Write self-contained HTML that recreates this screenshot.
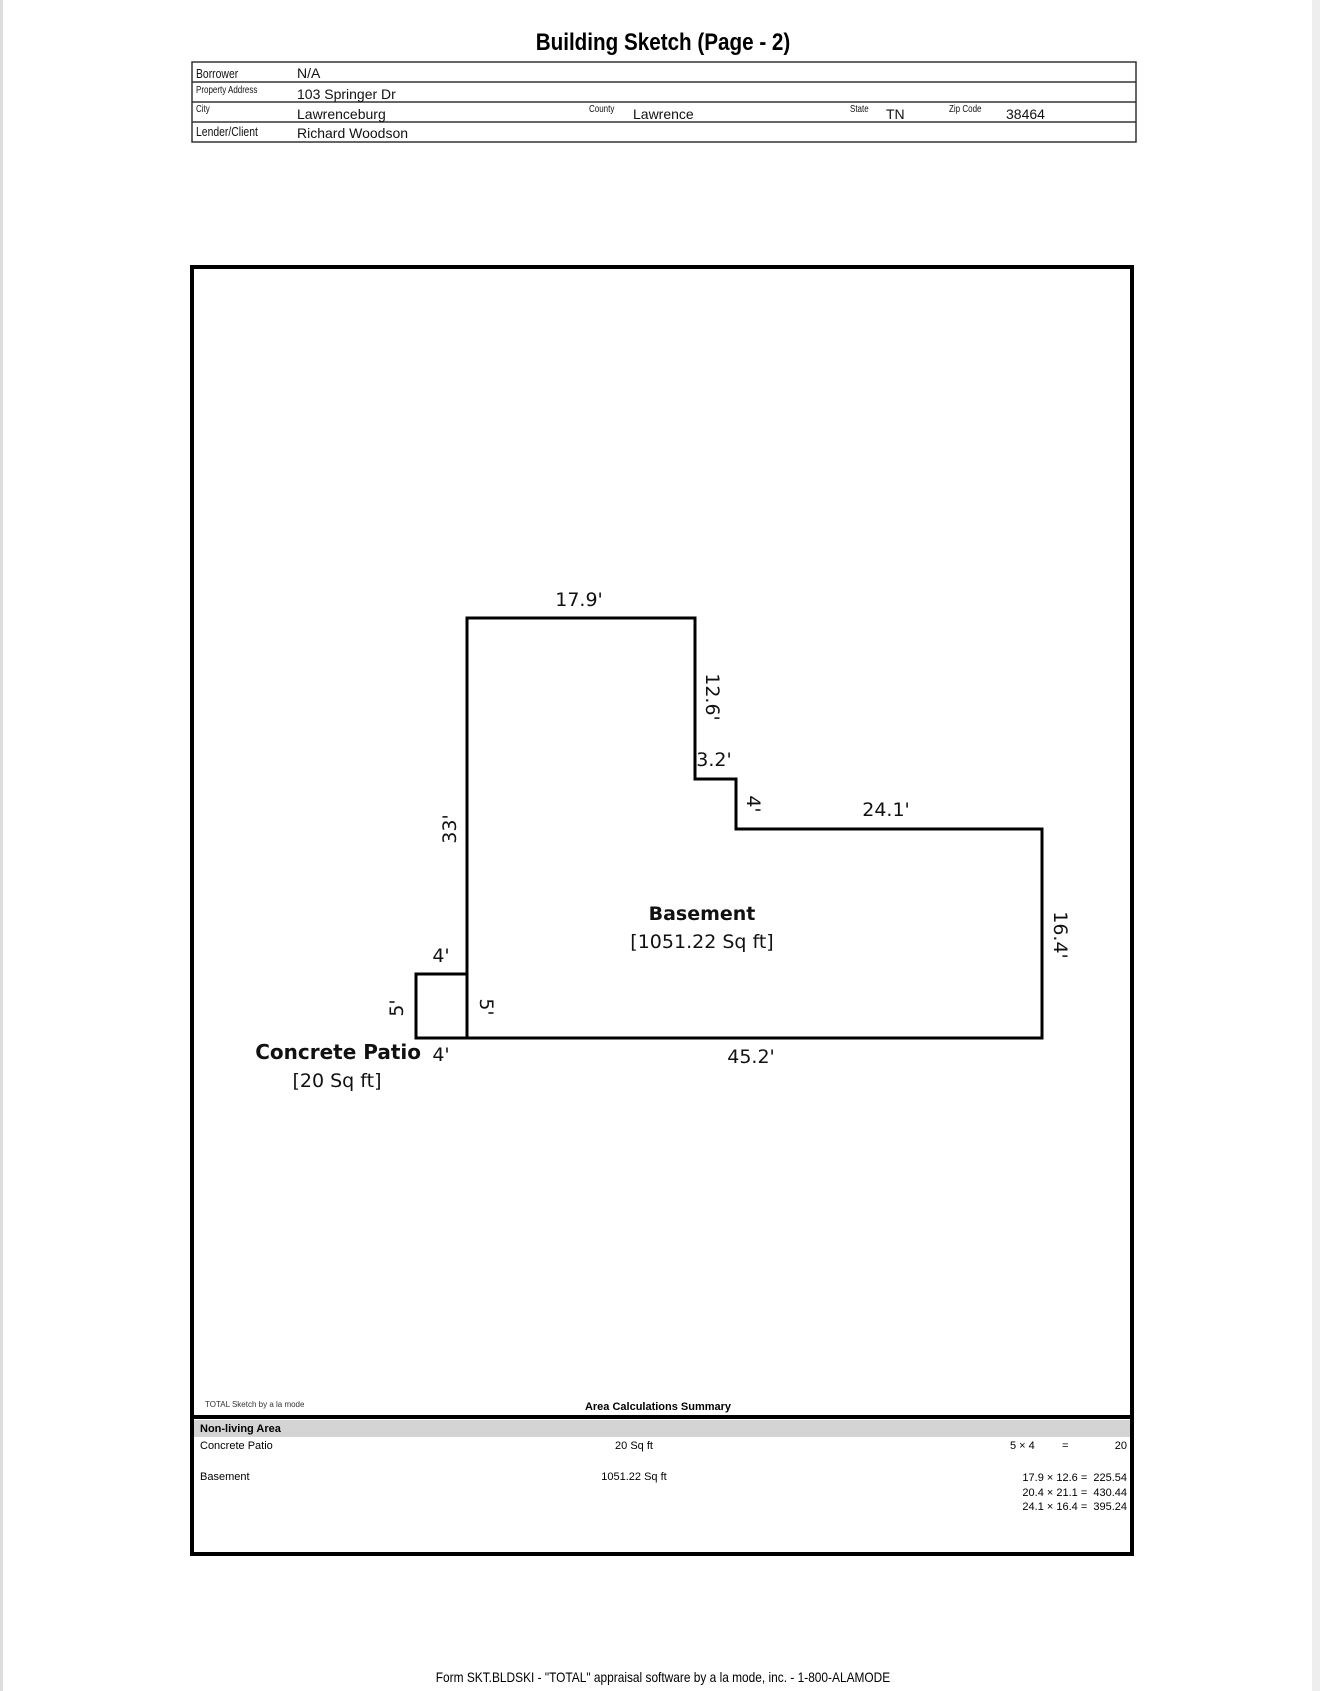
<!DOCTYPE html>
<html><head><style>
html,body{margin:0;padding:0;}
body{width:1320px;height:1691px;background:#fff;position:relative;overflow:hidden;font-family:"Liberation Sans",sans-serif;}
.edgeL{position:absolute;left:0;top:0;width:3px;height:1691px;background:#ddd;}
.edgeR{position:absolute;right:0;top:0;width:8px;height:1691px;background:#eee;}
.t{position:absolute;white-space:nowrap;}
.hd{font-size:10px;transform:scaleX(.8);transform-origin:left;color:#111;}
.hv{font-size:14px;color:#111;}
</style></head><body>
<div class="edgeL"></div><div class="edgeR"></div>
<div class="t" style="left:0;width:1326px;text-align:center;top:29px;font-size:24px;font-weight:bold;transform:scaleX(.86);transform-origin:663px 0;">Building Sketch (Page - 2)</div>
<svg style="position:absolute;left:0;top:0" width="1320" height="1691">
<g stroke="#333" fill="none" stroke-width="1.5">
<rect x="192" y="62" width="944" height="80"/>
<line x1="192" y1="82" x2="1136" y2="82"/><line x1="192" y1="102" x2="1136" y2="102"/><line x1="192" y1="122" x2="1136" y2="122"/>
</g>
<rect x="192" y="267" width="940" height="1287" fill="none" stroke="#000" stroke-width="4"/>
<line x1="192" y1="1417" x2="1132" y2="1417" stroke="#000" stroke-width="4"/>
<rect x="194" y="1420" width="936" height="17" fill="#d4d4d4"/>
<g stroke="#000" stroke-width="3" fill="none">
<polygon points="467,618 695,618 695,779 736,779 736,829 1042,829 1042,1038 467,1038"/>
<rect x="416" y="974" width="51" height="64"/>
</g>
<g font-family="DejaVu Sans, sans-serif" font-size="19" fill="#111" text-anchor="middle">
<text x="579" y="606">17.9'</text>
<text transform="translate(706,697) rotate(90)">12.6'</text>
<text x="714" y="766">3.2'</text>
<text transform="translate(747,804) rotate(90)">4'</text>
<text x="886" y="816">24.1'</text>
<text transform="translate(1054,935) rotate(90)">16.4'</text>
<text transform="translate(456,829) rotate(-90)">33'</text>
<text x="702" y="920" font-weight="bold">Basement</text>
<text x="702" y="948">[1051.22 Sq ft]</text>
<text x="441" y="962">4'</text>
<text transform="translate(403,1008) rotate(-90)">5'</text>
<text transform="translate(480,1007) rotate(90)">5'</text>
<text x="421" y="1059" text-anchor="end" font-weight="bold" font-size="20">Concrete Patio</text>
<text x="441" y="1061">4'</text>
<text x="337" y="1087">[20 Sq ft]</text>
<text x="751" y="1063">45.2'</text>
</g>
</svg>
<div class="t hd" style="left:196px;top:66px;font-size:13px">Borrower</div>
<div class="t hv" style="left:297px;top:65px">N/A</div>
<div class="t hd" style="left:196px;top:85px">Property Address</div>
<div class="t hv" style="left:297px;top:86px">103 Springer Dr</div>
<div class="t hd" style="left:196px;top:104px">City</div>
<div class="t hv" style="left:297px;top:106px">Lawrenceburg</div>
<div class="t hd" style="left:589px;top:104px">County</div>
<div class="t hv" style="left:633px;top:106px">Lawrence</div>
<div class="t hd" style="left:850px;top:104px">State</div>
<div class="t hv" style="left:886px;top:106px">TN</div>
<div class="t hd" style="left:949px;top:104px">Zip Code</div>
<div class="t hv" style="left:1006px;top:106px">38464</div>
<div class="t hd" style="left:196px;top:124px;font-size:13px">Lender/Client</div>
<div class="t hv" style="left:297px;top:125px">Richard Woodson</div>
<div class="t" style="left:205px;top:1400px;font-size:8px;color:#333">TOTAL Sketch by a la mode</div>
<div class="t" style="left:558px;width:200px;text-align:center;top:1401px;font-size:11px;font-weight:bold;">Area Calculations Summary</div>
<div class="t" style="left:200px;top:1423px;font-size:11px;font-weight:bold;">Non-living Area</div>
<div class="t" style="left:200px;top:1440px;font-size:11px;">Concrete Patio</div>
<div class="t" style="left:584px;width:100px;text-align:center;top:1440px;font-size:11px;">20 Sq ft</div>
<div class="t" style="left:1010px;top:1440px;font-size:11px;">5 × 4</div>
<div class="t" style="left:1062px;top:1440px;font-size:11px;">=</div>
<div class="t" style="left:1100px;width:27px;text-align:right;top:1440px;font-size:11px;">20</div>
<div class="t" style="left:200px;top:1471px;font-size:11px;">Basement</div>
<div class="t" style="left:584px;width:100px;text-align:center;top:1471px;font-size:11px;">1051.22 Sq ft</div>
<div class="t" style="left:980px;width:147px;text-align:right;top:1471px;font-size:11px;line-height:14.5px;">17.9 × 12.6 = &nbsp;225.54<br>20.4 × 21.1 = &nbsp;430.44<br>24.1 × 16.4 = &nbsp;395.24</div>
<div class="t" style="left:0;width:1326px;text-align:center;top:1669px;font-size:14px;transform:scaleX(.85);transform-origin:663px 0;">Form SKT.BLDSKI - "TOTAL" appraisal software by a la mode, inc. - 1-800-ALAMODE</div>
</body></html>
